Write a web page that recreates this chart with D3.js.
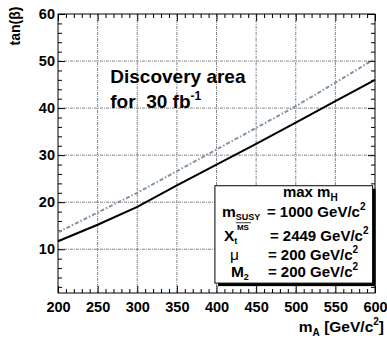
<!DOCTYPE html>
<html>
<head>
<meta charset="utf-8">
<script src="https://cdn.jsdelivr.net/npm/d3@7"></script>
<style>
  body { margin: 0; background: #fff; }
  text { font-family: "Liberation Sans", Arial, sans-serif; font-weight: bold; }
</style>
</head>
<body>
<div id="chart"></div>
<script>
// values
const massA = [200, 250, 300, 350, 400, 450, 500, 550, 600];
const tanbSolid = [11.7, 15.2, 19.0, 23.6, 28.0, 32.4, 36.9, 41.5, 46.0];
const tanbDashed = [13.6, 17.8, 22.0, 26.6, 31.2, 35.8, 40.4, 45.4, 50.5];
const xTicks = [200, 250, 300, 350, 400, 450, 500, 550, 600];
const yTicks = [10, 20, 30, 40, 50, 60];

const W = 387, H = 341;
const margin = { top: 14, right: 12, bottom: 48, left: 58 };
const width = W - margin.left - margin.right,
  height = H - margin.top - margin.bottom;

const svg = d3.select("#chart").append("svg")
  .attr("width", W).attr("height", H);

const g = svg.append("g").attr("transform", `translate(${margin.left},${margin.top})`);

const x = d3.scaleLinear().domain([200, 600]).range([0, width]);
const y = d3.scaleLinear().domain([0.7, 60]).range([height, 0]);

// grid
g.append("g").selectAll("line").data(xTicks.slice(1, -1)).join("line")
  .attr("x1", d => x(d)).attr("x2", d => x(d)).attr("y1", 0).attr("y2", height)
  .attr("stroke", "#666").attr("stroke-width", 0.8).attr("stroke-dasharray", "3,1,1,1");
g.append("g").selectAll("line").data(yTicks.slice(0, -1)).join("line")
  .attr("y1", d => y(d)).attr("y2", d => y(d)).attr("x1", 0).attr("x2", width)
  .attr("stroke", "#666").attr("stroke-width", 0.8).attr("stroke-dasharray", "3,1,1,1");

// axes with inner ticks on all four sides
const xMinor = d3.range(210, 600, 10).filter(v => v % 50 !== 0);
const yMinor = d3.range(2, 60, 2).filter(v => v % 10 !== 0);

g.append("g").attr("transform", `translate(0,${height})`)
  .call(d3.axisBottom(x).tickValues(xTicks).tickSize(-7).tickPadding(9).tickFormat(d3.format("d")))
  .call(a => a.select(".domain").remove())
  .call(a => a.selectAll("text").attr("font-size", 14.5).attr("fill", "#000"));
g.append("g").attr("transform", `translate(0,${height})`)
  .call(d3.axisBottom(x).tickValues(xMinor).tickSize(-4).tickFormat(""))
  .call(a => a.select(".domain").remove());
g.append("g")
  .call(d3.axisTop(x).tickValues(xTicks).tickSize(-7).tickFormat(""))
  .call(a => a.select(".domain").remove());
g.append("g")
  .call(d3.axisTop(x).tickValues(xMinor).tickSize(-4).tickFormat(""))
  .call(a => a.select(".domain").remove());

g.append("g")
  .call(d3.axisLeft(y).tickValues(yTicks).tickSize(-7).tickPadding(3))
  .call(a => a.select(".domain").remove())
  .call(a => a.selectAll("text").attr("font-size", 14.5).attr("fill", "#000"));
g.append("g")
  .call(d3.axisLeft(y).tickValues(yMinor).tickSize(-4).tickFormat(""))
  .call(a => a.select(".domain").remove());
g.append("g").attr("transform", `translate(${width},0)`)
  .call(d3.axisRight(y).tickValues(yTicks).tickSize(-7).tickFormat(""))
  .call(a => a.select(".domain").remove());
g.append("g").attr("transform", `translate(${width},0)`)
  .call(d3.axisRight(y).tickValues(yMinor).tickSize(-4).tickFormat(""))
  .call(a => a.select(".domain").remove());

g.append("rect").attr("width", width).attr("height", height)
  .attr("fill", "none").attr("stroke", "#000").attr("stroke-width", 1);

// curves
const line = d3.line().x((d, i) => x(massA[i])).y(d => y(d));
g.append("path").datum(tanbDashed).attr("d", line)
  .attr("fill", "none").attr("stroke", "#7f92a6").attr("stroke-width", 2)
  .attr("stroke-dasharray", "4,2,1.5,2");
g.append("path").datum(tanbSolid).attr("d", line)
  .attr("fill", "none").attr("stroke", "#000").attr("stroke-width", 2);

// annotation
g.append("text").attr("font-size", 19).attr("fill", "#000")
  .attr("x", x(266)).attr("y", y(45.3)).text("Discovery area");
const l2 = g.append("text").attr("font-size", 19).attr("fill", "#000")
  .attr("x", x(266)).attr("y", y(40.1)).attr("xml:space", "preserve");
l2.append("tspan").text("for  30 fb");
l2.append("tspan").attr("dy", -8).attr("font-size", 12).text("-1");

// legend box
const bx = x(398), by = y(23.5), bw = x(597) - x(398), bh = y(2.8) - y(23.5);
g.append("rect").attr("x", bx + 3).attr("y", by + 3).attr("width", bw).attr("height", bh).attr("fill", "#000");
g.append("rect").attr("x", bx).attr("y", by).attr("width", bw).attr("height", bh)
  .attr("fill", "#fff").attr("stroke", "#000").attr("stroke-width", 1);

const lg = g.append("g").attr("fill", "#000");
const t0 = lg.append("text").attr("x", bx + 68).attr("y", by + 11).attr("font-size", 15);
t0.append("tspan").text("max m");
t0.append("tspan").attr("font-size", 10).attr("dy", 4).text("H");

const rows = [
  { lab: "m", s: "SUSY", val: "= 1000 GeV/c", lx: 7, vx: 52, dy: 31 },
  { lab: "X", s: "t", val: "= 2449 GeV/c", lx: 9, vx: 55, dy: 55 },
  { lab: "\u03bc", s: "", val: "= 200 GeV/c", lx: 15, vx: 53, dy: 74 },
  { lab: "M", s: "2", val: "= 200 GeV/c", lx: 16, vx: 53, dy: 91 }
];
rows.forEach(r => {
  const t = lg.append("text").attr("x", bx + r.lx).attr("y", by + r.dy).attr("font-size", 15.5);
  const main = t.append("tspan").text(r.lab);
  if (r.lab === "\u03bc") main.attr("font-weight", "normal");
  if (r.s) t.append("tspan").attr("font-size", 9).attr("dy", 3).text(r.s);
  const v = lg.append("text").attr("x", bx + r.vx).attr("y", by + r.dy).attr("font-size", 15);
  v.append("tspan").text(r.val);
  v.append("tspan").attr("font-size", 10).attr("dy", -7).text("2");
});
// MS-bar superscript on X_t
lg.append("text").attr("x", bx + 22).attr("y", by + 44).attr("font-size", 8).attr("font-weight", "normal").text("MS");
lg.append("line").attr("x1", bx + 21).attr("x2", bx + 36).attr("y1", by + 37).attr("y2", by + 37)
  .attr("stroke", "#000").attr("stroke-width", 0.8);

// axis titles
const xt = svg.append("text").attr("x", 384).attr("y", 332).attr("text-anchor", "end").attr("font-size", 15.5);
xt.append("tspan").text("m");
xt.append("tspan").attr("font-size", 10).attr("dy", 4).text("A");
xt.append("tspan").attr("dy", -4).text(" [GeV/c");
xt.append("tspan").attr("font-size", 10).attr("dy", -7).text("2");
xt.append("tspan").attr("dy", 7).text("]");

svg.append("text").attr("transform", "translate(20,26) rotate(-90)")
  .attr("text-anchor", "middle").attr("font-size", 14).attr("font-weight", "normal")
  .text("tan(\u03b2)");
</script>
</body>
</html>
